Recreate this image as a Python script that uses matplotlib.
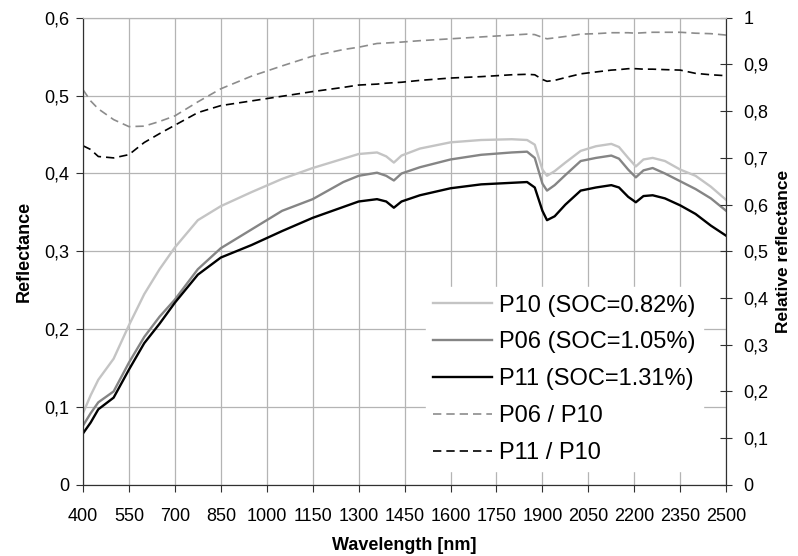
import numpy as np
import matplotlib
matplotlib.use("Agg")
import matplotlib.pyplot as plt
from matplotlib.ticker import FuncFormatter, MultipleLocator

plt.rcParams['font.family'] = ['Liberation Sans', 'DejaVu Sans']

# Wavelength grid (nm) and values
wavelength = [400, 425, 450, 500, 550, 600, 650, 700, 775, 850, 950, 1050, 1150,
              1250, 1300, 1360, 1390, 1415, 1440, 1500, 1600, 1700, 1800, 1850,
              1875, 1900, 1915, 1940, 1975, 2025, 2075, 2125, 2150, 2180, 2205,
              2230, 2260, 2300, 2350, 2400, 2450, 2500]

p10 = [0.092, 0.115, 0.135, 0.162, 0.205, 0.245, 0.277, 0.305, 0.340, 0.358,
       0.376, 0.393, 0.407, 0.419, 0.425, 0.427, 0.422, 0.414, 0.423, 0.432,
       0.440, 0.443, 0.444, 0.443, 0.437, 0.405, 0.397, 0.403, 0.414, 0.429,
       0.435, 0.438, 0.434, 0.420, 0.409, 0.418, 0.420, 0.416, 0.405, 0.397,
       0.383, 0.366]

p06 = [0.076, 0.092, 0.106, 0.120, 0.157, 0.190, 0.216, 0.238, 0.277, 0.304,
       0.328, 0.352, 0.367, 0.389, 0.397, 0.401, 0.397, 0.391, 0.400, 0.408,
       0.418, 0.424, 0.427, 0.428, 0.420, 0.387, 0.378, 0.385, 0.398, 0.416,
       0.420, 0.423, 0.419, 0.405, 0.395, 0.404, 0.407, 0.400, 0.390, 0.380,
       0.368, 0.352]

p11 = [0.066, 0.080, 0.097, 0.112, 0.148, 0.182, 0.207, 0.234, 0.270, 0.292,
       0.308, 0.326, 0.343, 0.357, 0.364, 0.367, 0.364, 0.356, 0.364, 0.372,
       0.381, 0.386, 0.388, 0.389, 0.382, 0.352, 0.340, 0.345, 0.360, 0.378,
       0.382, 0.385, 0.382, 0.370, 0.363, 0.371, 0.372, 0.368, 0.359, 0.348,
       0.333, 0.320]

ratio_06_10 = [0.846, 0.822, 0.805, 0.782, 0.767, 0.768, 0.778, 0.790, 0.820, 0.848,
               0.875, 0.897, 0.918, 0.932, 0.937, 0.945, 0.946, 0.947, 0.948, 0.951,
               0.955, 0.959, 0.963, 0.965, 0.964, 0.958, 0.955, 0.957, 0.960, 0.965,
               0.966, 0.968, 0.968, 0.968, 0.967, 0.968, 0.969, 0.969, 0.969, 0.967,
               0.966, 0.963]

ratio_11_10 = [0.726, 0.718, 0.703, 0.700, 0.707, 0.733, 0.752, 0.770, 0.797, 0.812,
               0.822, 0.832, 0.842, 0.851, 0.856, 0.858, 0.860, 0.861, 0.862, 0.866,
               0.871, 0.874, 0.878, 0.879, 0.878, 0.868, 0.864, 0.866, 0.872, 0.880,
               0.884, 0.888, 0.889, 0.891, 0.891, 0.890, 0.890, 0.889, 0.888, 0.881,
               0.878, 0.876]

x_ticks = np.arange(400, 2501, 150)


def comma(v, pos):
    return ('%g' % round(v, 1)).replace('.', ',')


fig = plt.figure(figsize=(7.98, 5.56), dpi=100)
ax = fig.add_axes([0.104, 0.128, 0.806, 0.840])
ax2 = ax.twinx()

l1, = ax.plot(wavelength, p10, color='#c4c4c4', lw=1.7, label='P10 (SOC=0.82%)')
l2, = ax.plot(wavelength, p06, color='#858585', lw=1.7, label='P06 (SOC=1.05%)')
l3, = ax.plot(wavelength, p11, color='black', lw=1.7, label='P11 (SOC=1.31%)')
l4, = ax2.plot(wavelength, ratio_06_10, color='#8c8c8c', lw=1.2, dashes=(5, 3),
               label='P06 / P10')
l5, = ax2.plot(wavelength, ratio_11_10, color='black', lw=1.2, dashes=(5, 3),
               label='P11 / P10')

ax.set_xlim(400, 2500)
ax.set_ylim(0, 0.6)
ax2.set_ylim(0, 1)
ax.set_xticks(x_ticks)
ax.yaxis.set_major_locator(MultipleLocator(0.1))
ax2.yaxis.set_major_locator(MultipleLocator(0.1))
ax.yaxis.set_major_formatter(FuncFormatter(comma))
ax2.yaxis.set_major_formatter(FuncFormatter(comma))

ax.grid(True, color='#b4b4b4', lw=0.9)
ax.set_axisbelow(True)

for a in (ax, ax2):
    a.spines['top'].set_color('#b4b4b4')
    a.spines['left'].set_color('#303030')
    a.spines['bottom'].set_color('#303030')
    a.spines['right'].set_color('#303030')

ax.tick_params(axis='both', labelsize=13, direction='out', length=5,
               color='#303030')
ax.tick_params(axis='x', pad=12)
ax.tick_params(axis='y', pad=5)
ax2.tick_params(axis='y', labelsize=13, direction='inout', length=9,
                color='#303030', pad=8)

ax.set_xlabel('Wavelength [nm]', fontsize=13, fontweight='bold', labelpad=8)
ax.set_ylabel('Reflectance', fontsize=13, fontweight='bold', labelpad=8)
ax2.set_ylabel('Relative reflectance', fontsize=12.5, fontweight='bold', labelpad=5)

leg = ax2.legend(handles=[l1, l2, l3, l4, l5], loc='lower right',
                 bbox_to_anchor=(0.982, 0.004), frameon=True, fontsize=17,
                 handlelength=2.5, handletextpad=0.3, labelspacing=0.63,
                 borderpad=0.3, fancybox=False)
leg.get_frame().set_facecolor('white')
leg.get_frame().set_edgecolor('white')
leg.get_frame().set_alpha(1)

fig.savefig('out.png', dpi=100)
